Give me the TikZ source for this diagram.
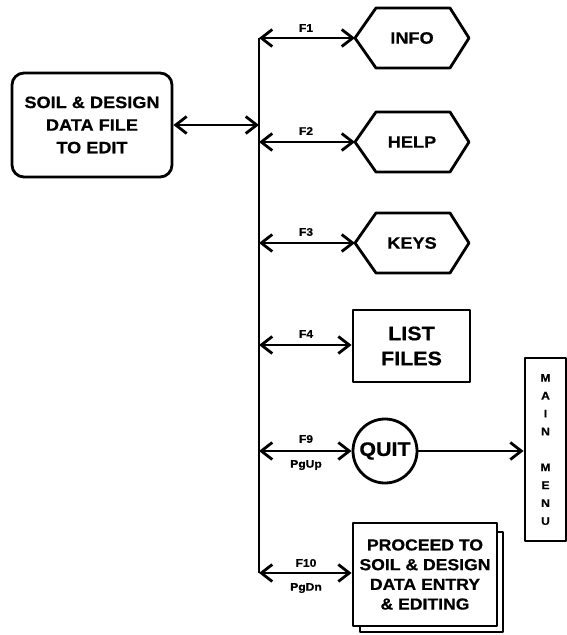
\documentclass[tikz,border=0pt]{standalone}
\usepackage{fontspec}
\setmainfont{Liberation Sans}[FakeStretch=1.1, FakeBold=0.6]
\usetikzlibrary{arrows.meta}
\tikzset{
  ln/.style={line width=2.8pt, line join=round},
  dbl/.style={{Straight Barb[length=11pt,width=17pt]}-{Straight Barb[length=11pt,width=17pt]}},
  one/.style={-{Straight Barb[length=11pt,width=17pt]}},
  txt/.style={font=\bfseries\fontsize{16.5}{22.6}\selectfont, align=center, inner sep=0pt},
  big/.style={font=\bfseries\fontsize{19.5}{25}\selectfont, align=center, inner sep=0pt},
  lab/.style={font=\bfseries\fontsize{11}{12}\selectfont, inner sep=0pt},
  boxed/.style={ln, draw, fill=white, inner sep=0pt},
}
\begin{document}
\begin{tikzpicture}[x=1pt,y=-1pt]
\useasboundingbox (0,0) rectangle (567,635);
% source box
\node[boxed, rounded corners=12pt, minimum width=160pt, minimum height=104pt, txt] (src) at (92,125)
  {SOIL \& DESIGN\\DATA FILE\\TO EDIT};
% bus coordinates
\coordinate (b0) at (259,125);
\coordinate (b1) at (259,38);
\coordinate (b2) at (259,142);
\coordinate (b3) at (259,243);
\coordinate (b4) at (259,345);
\coordinate (b5) at (259,451);
\coordinate (b6) at (259,573);
\draw[ln] (b1) -- (b6);
\draw[ln,dbl] (src.east |- b0) -- (b0);
% hexagons
\foreach \y/\t/\n in {38/INFO/info,142/HELP/help,243/KEYS/keys}{
  \draw[ln] (355,\y) -- (376,\y-30) -- (450,\y-30) -- (469,\y) -- (450,\y+30) -- (376,\y+30) -- cycle;
  \node[txt] (\n) at (412,\y) {\t};
  \coordinate (\n-w) at (355,\y);
}
% list files
\node[boxed, minimum width=117pt, minimum height=72pt, big] (list) at (411.5,346) {LIST\\FILES};
% quit
\node[boxed, circle, minimum size=64pt, big] (quit) at (385,451) {QUIT};
% main menu
\node[boxed, minimum width=41pt, minimum height=183pt,
      font=\bfseries\fontsize{11}{17.9}\selectfont, align=center] (menu) at (545.5,449.5)
  {M\\A\\I\\N\\[17.9pt]M\\E\\N\\U};
% proceed with shadow
\draw[ln, fill=white] (360,532) rectangle (503,632);
\node[boxed, minimum width=144pt, minimum height=103pt, font=\bfseries\fontsize{16}{19.7}\selectfont, align=center] (proc) at (425,574.5)
  {PROCEED TO\\SOIL \& DESIGN\\DATA ENTRY\\\& EDITING};
% connectors
\draw[ln,dbl] (b1) -- (info-w);
\draw[ln,dbl] (b2) -- (help-w);
\draw[ln,dbl] (b3) -- (keys-w);
\draw[ln,dbl] (b4) -- (list.west |- b4);
\draw[ln,dbl] (b5) -- (quit.west);
\draw[ln,dbl] (b6) -- (proc.west |- b6);
\draw[ln,one] (quit.east) -- (menu.west |- quit);
% labels
\node[lab] (l1) at (306,28) {F1};
\node[lab] (l2) at (306,131) {F2};
\node[lab] (l3) at (306,232) {F3};
\node[lab] (l4) at (306,334) {F4};
\node[lab] (l9) at (306,439) {F9};
\node[lab] (l9b) at (306,465) {PgUp};
\node[lab] (l10) at (306,563) {F10};
\node[lab] (l10b) at (306,588) {PgDn};
\end{tikzpicture}
\end{document}
